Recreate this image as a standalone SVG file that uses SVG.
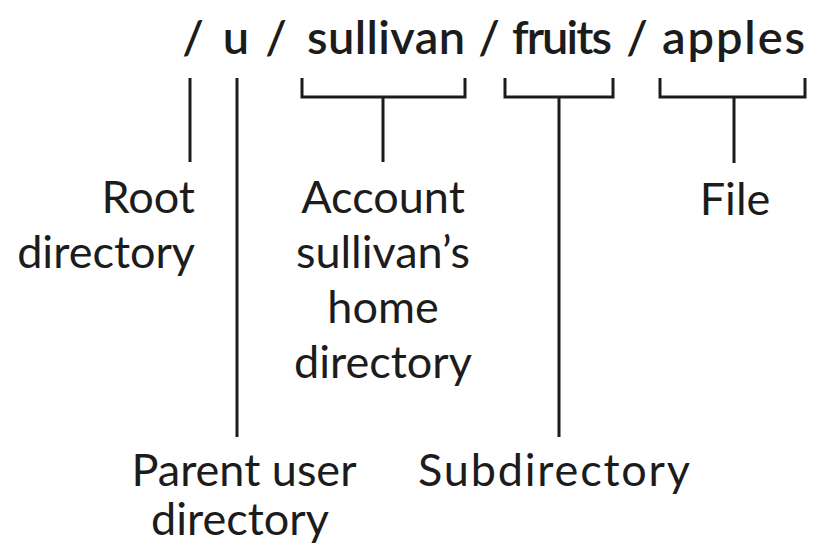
<svg xmlns="http://www.w3.org/2000/svg" width="813" height="546" viewBox="0 0 813 546">
<style>
text{font-family:Lato,"Noto Sans",sans-serif;fill:#1c1c1c}
.p{font-size:47px;font-weight:600}
.l{font-size:45px;font-weight:400}
.ln{stroke:#1c1c1c;stroke-width:3;fill:none;stroke-linecap:butt}
</style>
<rect width="813" height="546" fill="#fff"/>
<g id="path">
<text class="p" x="193" y="54" text-anchor="middle">/</text>
<text class="p" x="236" y="54" text-anchor="middle">u</text>
<text class="p" x="276" y="54" text-anchor="middle">/</text>
<text class="p" x="307" y="54" textLength="158">sullivan</text>
<text class="p" x="489" y="54" text-anchor="middle">/</text>
<text class="p" x="512" y="54" textLength="100">fruits</text>
<text class="p" x="637" y="54" text-anchor="middle">/</text>
<text class="p" x="662" y="54" textLength="143">apples</text>
</g>
<g id="connectors">
<path class="ln" d="M190 78V162"/>
<path class="ln" d="M237 78V437"/>
<path class="ln" d="M302 78V97H465V78M383 97V162"/>
<path class="ln" d="M505 78V97H613V78M559 97V437"/>
<path class="ln" d="M660 78V97H805V78M734 97V163"/>
</g>
<g id="root">
<text class="l" x="195" y="213" text-anchor="end">Root</text>
<text class="l" x="195" y="268" text-anchor="end">directory</text>
</g>
<g id="account">
<text class="l" x="383" y="213" text-anchor="middle">Account</text>
<text class="l" x="383" y="268" text-anchor="middle">sullivan’s</text>
<text class="l" x="383" y="323" text-anchor="middle">home</text>
<text class="l" x="383" y="378" text-anchor="middle">directory</text>
</g>
<g id="file">
<text class="l" x="735" y="215" text-anchor="middle">File</text>
</g>
<g id="parent">
<text class="l" x="244" y="486" text-anchor="middle">Parent user</text>
<text class="l" x="240" y="535" text-anchor="middle">directory</text>
</g>
<g id="subdirectory">
<text class="l" x="418" y="486" textLength="272">Subdirectory</text>
</g>
</svg>
